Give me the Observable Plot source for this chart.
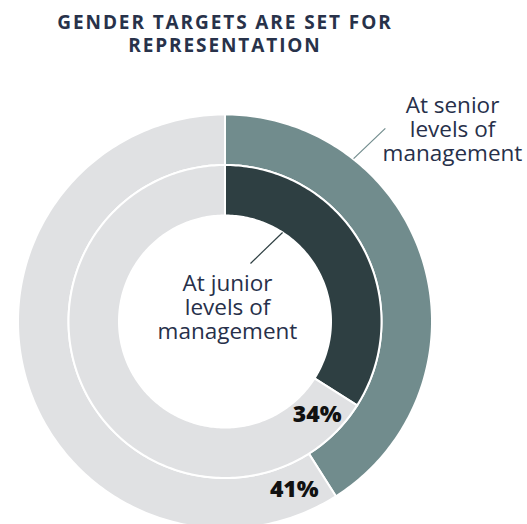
<!DOCTYPE html>
<html><head><meta charset="utf-8">
<script src="https://cdn.jsdelivr.net/npm/d3@7"></script>
<script src="https://cdn.jsdelivr.net/npm/@observablehq/plot@0.6"></script>
<style>
html,body{margin:0;padding:0;background:#fff;overflow:hidden}
#title{box-sizing:border-box;width:450px;height:70px;padding-top:11px;text-align:center;font-family:"Open Sans",sans-serif;font-weight:700;font-size:19px;line-height:23px;letter-spacing:1.9px;color:#28324a}
#chart svg{display:block}
</style></head>
<body>
<div id="title">GENDER TARGETS ARE SET FOR<br>REPRESENTATION</div>
<div id="chart"></div>
<script>
// ---- data ----
const titleText = "GENDER TARGETS ARE SET FOR REPRESENTATION";
const categories = ["At senior\nlevels of\nmanagement", "At junior\nlevels of\nmanagement"];
const ringKeys = ["senior", "junior"];
const shares = [41, 34];           // percent with gender targets
const segColors = {senior: "#718c8d", junior: "#2e3f42", rest: "#e0e1e3"};

// ---- layout constants ----
const rings = {senior: [156.5, 207], junior: [106, 156.5]};   // ring radii (with 1px white edge)
const labelOffsetDeg = {senior: 10, junior: 13};
const catLabelPos = {senior: [227.5, 192], junior: [2.5, 14]};
const leaders = {senior: [[207.5, 38.3], [251, 39.7]], junior: [[63.4, 23.7], [106, 32.9]]};

// build ring segments as polygons (sampled arcs)
function arcPoly(id, key, r0, r1, a0, a1) {
  const pts = [];
  const n = Math.max(2, Math.ceil(Math.abs(a1 - a0)));
  for (let i = 0; i <= n; i++) {
    const a = (a0 + (a1 - a0) * i / n) * Math.PI / 180;
    pts.push({id, key, x: r1 * Math.sin(a), y: r1 * Math.cos(a)});
  }
  for (let i = n; i >= 0; i--) {
    const a = (a0 + (a1 - a0) * i / n) * Math.PI / 180;
    pts.push({id, key, x: r0 * Math.sin(a), y: r0 * Math.cos(a)});
  }
  return pts;
}
const polys = [];
const pctLabels = [];
const catLabels = [];
const leaderLines = [];
ringKeys.forEach((k, i) => {
  const [r0, r1] = rings[k];
  const end = shares[i] / 100 * 360;
  polys.push(...arcPoly(k + "-val", k, r0, r1, 0, end));
  polys.push(...arcPoly(k + "-rest", "rest", r0, r1, end, 360));
  const la = (end + labelOffsetDeg[k]) * Math.PI / 180;
  const rm = (r0 + r1) / 2;
  pctLabels.push({x: rm * Math.sin(la), y: rm * Math.cos(la), text: shares[i] + "%"});
  catLabels.push({x: catLabelPos[k][0], y: catLabelPos[k][1], text: categories[i], key: k});
  const [[ra, aa], [rb, ab]] = leaders[k];
  leaderLines.push({
    x1: ra * Math.sin(aa * Math.PI / 180), y1: ra * Math.cos(aa * Math.PI / 180),
    x2: rb * Math.sin(ab * Math.PI / 180), y2: rb * Math.cos(ab * Math.PI / 180), key: k
  });
});

const chart = Plot.plot({
  width: 527,
  height: 454,
  margin: 0,
  x: {domain: [-224.5, 302.5], axis: null},
  y: {domain: [-203, 251], axis: null},
  color: {domain: ["senior", "junior", "rest"], range: [segColors.senior, segColors.junior, segColors.rest]},
  style: {fontFamily: "'Open Sans', sans-serif", background: "white", overflow: "visible"},
  marks: [
    Plot.line(polys, {x: "x", y: "y", z: "id", fill: "key", stroke: "white", strokeWidth: 2, curve: "linear-closed"}),
    Plot.link(leaderLines, {x1: "x1", y1: "y1", x2: "x2", y2: "y2", stroke: "key", strokeWidth: 1.2}),
    Plot.text(catLabels, {x: "x", y: "y", text: "text", fontSize: 22.5, lineHeight: 1.05, fill: "#27304a", textAnchor: "middle"}),
    Plot.text(pctLabels, {x: "x", y: "y", text: "text", fontSize: 23, fontWeight: 800, fill: "#111111", textAnchor: "middle"})
  ]
});
document.getElementById("chart").appendChild(chart);
</script>
</body></html>
